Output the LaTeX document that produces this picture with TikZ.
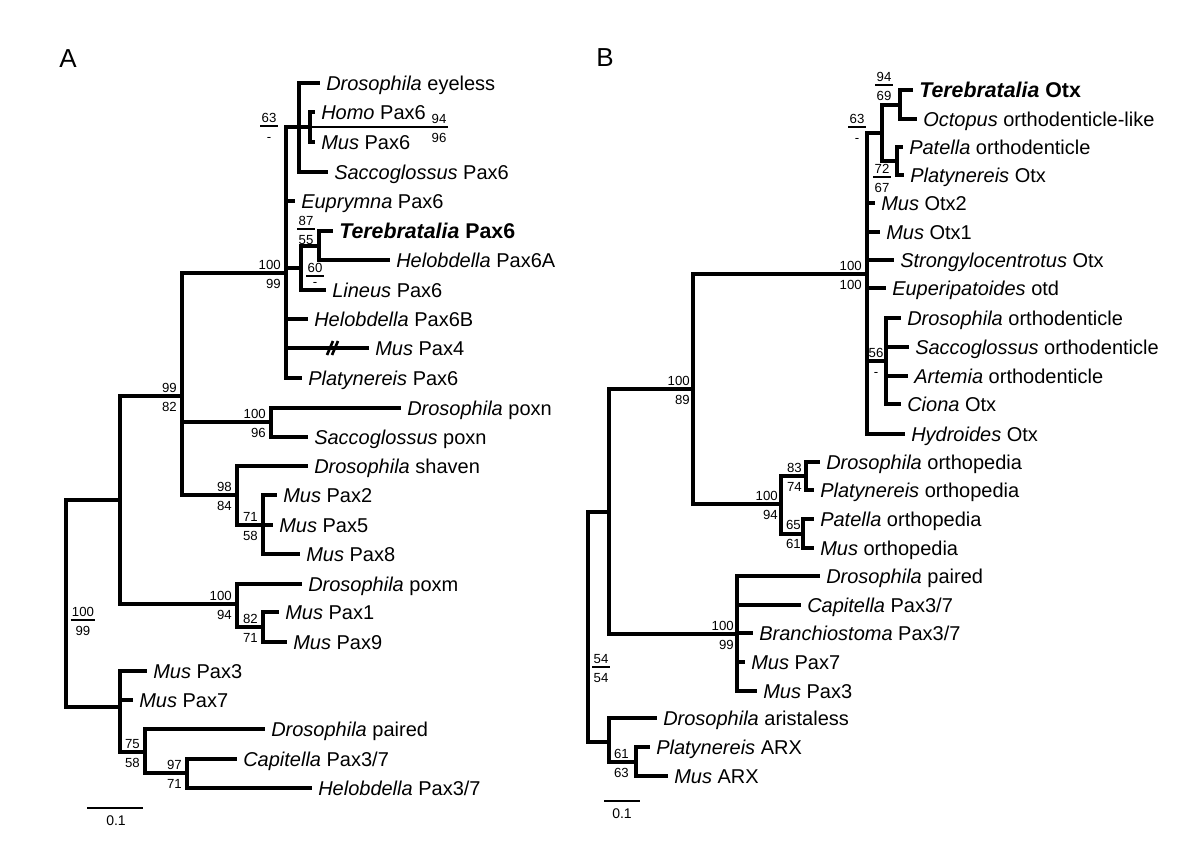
\documentclass[tikz,border=0pt]{standalone}
\usepackage{fontspec}
\setmainfont{Liberation Sans}
\newcommand\TipF{\fontsize{15pt}{17pt}\selectfont}
\newcommand\TipBF{\fontsize{16pt}{18pt}\selectfont\bfseries}
\newcommand\BsF{\fontsize{9.9pt}{11pt}\selectfont}
\newcommand\PanF{\fontsize{19.5pt}{22pt}\selectfont}
\newcommand\ScF{\fontsize{10.5pt}{12pt}\selectfont}
\tikzset{
  br/.style={line width=3pt},
  tip/.style={anchor=west, inner xsep=4.5pt, inner ysep=0pt, text height=10.7pt, text depth=0pt, font=\TipF},
  tipb/.style={tip, text height=11.4pt, font=\TipBF},
  bsu/.style={anchor=south east, inner sep=0pt, text height=7.1pt, text depth=0pt, font=\BsF},
  bsl/.style={anchor=north east, inner sep=0pt, text height=7.1pt, text depth=0pt, font=\BsF},
  fnumt/.style={anchor=south, inner xsep=0.8pt, inner ysep=0pt, text height=7.1pt, text depth=2.3pt, font=\BsF},
  fnumb/.style={anchor=north, inner xsep=0.8pt, inner ysep=0pt, text height=7.1pt, text depth=0pt, font=\BsF},
  fbar/.style={line width=1.1pt},
  lead/.style={line width=1pt},
  pan/.style={inner sep=0pt, font=\PanF},
  scl/.style={inner sep=0pt, font=\ScF},
  sbar/.style={line width=1.6pt},
  brk/.style={line width=2pt},
}
% bootstrap pair: name, node x, stem y, top, bottom
\newcommand\BS[5]{%
  \node[bsu] (#1u) at (#2-5,#3-3.5) {#4};
  \node[bsl] (#1l) at (#2-5,#3+5.5) {#5};}
% stacked fraction: name, centre x, bar y, top, bottom
\newcommand\FR[5]{%
  \node[fnumt] (#1t) at (#2,#3) {#4};
  \node[fnumb] (#1b) at (#2,#3+5.5) {#5};
  \draw[fbar] (#1t.south west) -- (#1t.south east);}
\begin{document}
\begin{tikzpicture}[x=0.75pt,y=-0.75pt]
\useasboundingbox (0,0) rectangle (1200,854);
\node[pan] (labA) at (68,59) {A};
\node[pan] (labB) at (605,58) {B};

% ================= Panel A =================
\node[tip] (aT1) at (320,83) {\textit{Drosophila} eyeless};
\node[tip] (aT2) at (315,112) {\textit{Homo} Pax6};
\node[tip] (aT3) at (315,142) {\textit{Mus} Pax6};
\node[tip] (aT4) at (328,172) {\textit{Saccoglossus} Pax6};
\node[tip] (aT5) at (295,201) {\textit{Euprymna} Pax6};
\node[tipb] (aT6) at (333,231) {\textit{Terebratalia} Pax6};
\node[tip] (aT7) at (390,260) {\textit{Helobdella} Pax6A};
\node[tip] (aT8) at (326,290) {\textit{Lineus} Pax6};
\node[tip] (aT9) at (308,319) {\textit{Helobdella} Pax6B};
\node[tip] (aT10) at (369,348) {\textit{Mus} Pax4};
\node[tip] (aT11) at (302,378) {\textit{Platynereis} Pax6};
\node[tip] (aT12) at (401,408) {\textit{Drosophila} poxn};
\node[tip] (aT13) at (308,437) {\textit{Saccoglossus} poxn};
\node[tip] (aT14) at (308,466) {\textit{Drosophila} shaven};
\node[tip] (aT15) at (277,495) {\textit{Mus} Pax2};
\node[tip] (aT16) at (273,525) {\textit{Mus} Pax5};
\node[tip] (aT17) at (300,554) {\textit{Mus} Pax8};
\node[tip] (aT18) at (302,584) {\textit{Drosophila} poxm};
\node[tip] (aT19) at (279,612) {\textit{Mus} Pax1};
\node[tip] (aT20) at (287,642) {\textit{Mus} Pax9};
\node[tip] (aT21) at (147,671) {\textit{Mus} Pax3};
\node[tip] (aT22) at (133,700) {\textit{Mus} Pax7};
\node[tip] (aT23) at (265,729) {\textit{Drosophila} paired};
\node[tip] (aT24) at (237,759) {\textit{Capitella} Pax3/7};
\node[tip] (aT25) at (312,788) {\textit{Helobdella} Pax3/7};

\coordinate (aR) at (66,603);
\coordinate (aU) at (120,500);
\coordinate (aL) at (120,707);
\coordinate (a99) at (182,396);
\coordinate (aPx6) at (286,273);
\coordinate (a63) at (299,127);
\coordinate (aHM) at (310,127);
\coordinate (a60) at (301,268);
\coordinate (a87) at (319,245.5);
\coordinate (aPoxn) at (271,422);
\coordinate (aShav) at (237,495);
\coordinate (a71) at (263,525);
\coordinate (aPoxm) at (237,604);
\coordinate (a82) at (263,627);
\coordinate (a75) at (145,752);
\coordinate (a97) at (187,773);

\draw[br] (aR) |- (aU) (aR) |- (aL);
\draw[br] (aU) |- (a99) (aU) |- (aPoxm);
\draw[br] (a99) |- (aPx6) (a99) |- (aPoxn) (a99) |- (aShav);
\draw[br] (aPx6) |- (a63) (aPx6) |- (aT5.west) (aPx6) |- (a60)
          (aPx6) |- (aT9.west) (aPx6) |- (aT10.west) (aPx6) |- (aT11.west);
\draw[br] (a63) |- (aT1.west) (a63) |- (aHM) (a63) |- (aT4.west);
\draw[br] (aHM) |- (aT2.west) (aHM) |- (aT3.west);
\draw[br] (a60) |- (a87) (a60) |- (aT8.west);
\draw[br] (a87) |- (aT6.west) (a87) |- (aT7.west);
\draw[br] (aPoxn) |- (aT12.west) (aPoxn) |- (aT13.west);
\draw[br] (aShav) |- (aT14.west) (aShav) |- (a71);
\draw[br] (a71) |- (aT15.west) (a71) |- (aT16.west) (a71) |- (aT17.west);
\draw[br] (aPoxm) |- (aT18.west) (aPoxm) |- (a82);
\draw[br] (a82) |- (aT19.west) (a82) |- (aT20.west);
\draw[br] (aL) |- (aT21.west) (aL) |- (aT22.west) (aL) |- (a75);
\draw[br] (a75) |- (aT23.west) (a75) |- (a97);
\draw[br] (a97) |- (aT24.west) (a97) |- (aT25.west);
% break mark on Mus Pax4
\draw[brk] (327,355) -- (333,341) (332,355) -- (338,341);

\BS{bA99}{182}{396}{99}{82}
\BS{bAPoxn}{271}{422}{100}{96}
\BS{bAPx6}{286}{273}{100}{99}
\BS{bAShav}{237}{495}{98}{84}
\BS{bA71}{263}{525}{71}{58}
\BS{bAPoxm}{237}{604}{100}{94}
\BS{bA82}{263}{627}{82}{71}
\BS{bA75}{145}{752}{75}{58}
\BS{bA97}{187}{773}{97}{71}
\FR{fA63}{269}{126}{63}{-}
\FR{fA87}{306}{229}{87}{55}
\FR{fAR}{83}{620}{100}{99}
\FR{fA94}{439}{127}{94}{96}
\draw[lead] (aHM) -- (fA94t.south west);
\node[fnumt] (fA60t) at (315,276) {60};
\node[fnumb] (fA60b) at (315,276.5) {-};
\draw[fbar] (fA60t.south west) -- (fA60t.south east);

\coordinate (aS1) at (87,808);
\coordinate (aS2) at (143,808);
\draw[sbar] (aS1) -- (aS2);
\node[scl] (aSc) at (116,821) {0.1};

% ================= Panel B =================
\node[tipb] (bT1) at (913,90) {\textit{Terebratalia} Otx};
\node[tip] (bT2) at (917,119) {\textit{Octopus} orthodenticle-like};
\node[tip] (bT3) at (903,147) {\textit{Patella} orthodenticle};
\node[tip] (bT4) at (904,175) {\textit{Platynereis} Otx};
\node[tip] (bT5) at (875,203) {\textit{Mus} Otx2};
\node[tip] (bT6) at (880,232) {\textit{Mus} Otx1};
\node[tip] (bT7) at (894,260) {\textit{Strongylocentrotus} Otx};
\node[tip] (bT8) at (886,288) {\textit{Euperipatoides} otd};
\node[tip] (bT9) at (901,318) {\textit{Drosophila} orthodenticle};
\node[tip] (bT10) at (909,347) {\textit{Saccoglossus} orthodenticle};
\node[tip] (bT11) at (908,376) {\textit{Artemia} orthodenticle};
\node[tip] (bT12) at (901,404) {\textit{Ciona} Otx};
\node[tip] (bT13) at (905,434) {\textit{Hydroides} Otx};
\node[tip] (bT14) at (820,462) {\textit{Drosophila} orthopedia};
\node[tip] (bT15) at (814,490) {\textit{Platynereis} orthopedia};
\node[tip] (bT16) at (814,519) {\textit{Patella} orthopedia};
\node[tip] (bT17) at (814,548) {\textit{Mus} orthopedia};
\node[tip] (bT18) at (820,576) {\textit{Drosophila} paired};
\node[tip] (bT19) at (801,605) {\textit{Capitella} Pax3/7};
\node[tip] (bT20) at (753,633) {\textit{Branchiostoma} Pax3/7};
\node[tip] (bT21) at (745,662) {\textit{Mus} Pax7};
\node[tip] (bT22) at (757,691) {\textit{Mus} Pax3};
\node[tip] (bT23) at (657,718) {\textit{Drosophila} aristaless};
\node[tip] (bT24) at (650,747) {\textit{Platynereis} ARX};
\node[tip] (bT25) at (668,776) {\textit{Mus} ARX};

\coordinate (bR) at (588,627);
\coordinate (bU) at (609,512);
\coordinate (bARX) at (609,742);
\coordinate (bOO) at (693,389);
\coordinate (bPax37) at (737,634);
\coordinate (bOtx) at (867,274);
\coordinate (bOrtho) at (781,504);
\coordinate (b63) at (882,133);
\coordinate (b94) at (900,104.5);
\coordinate (b72) at (897,161);
\coordinate (b56) at (886,361);
\coordinate (b83) at (806,476);
\coordinate (b65) at (803,533.5);
\coordinate (b61) at (636,762);

\draw[br] (bR) |- (bU) (bR) |- (bARX);
\draw[br] (bU) |- (bOO) (bU) |- (bPax37);
\draw[br] (bOO) |- (bOtx) (bOO) |- (bOrtho);
\draw[br] (bOtx) |- (b63) (bOtx) |- (bT5.west) (bOtx) |- (bT6.west) (bOtx) |- (bT7.west)
          (bOtx) |- (bT8.west) (bOtx) |- (b56) (bOtx) |- (bT13.west);
\draw[br] (b63) |- (b94) (b63) |- (b72);
\draw[br] (b94) |- (bT1.west) (b94) |- (bT2.west);
\draw[br] (b72) |- (bT3.west) (b72) |- (bT4.west);
\draw[br] (b56) |- (bT9.west) (b56) |- (bT10.west) (b56) |- (bT11.west) (b56) |- (bT12.west);
\draw[br] (bOrtho) |- (b83) (bOrtho) |- (b65);
\draw[br] (b83) |- (bT14.west) (b83) |- (bT15.west);
\draw[br] (b65) |- (bT16.west) (b65) |- (bT17.west);
\draw[br] (bPax37) |- (bT18.west) (bPax37) |- (bT19.west) (bPax37) |- (bT20.west)
          (bPax37) |- (bT21.west) (bPax37) |- (bT22.west);
\draw[br] (bARX) |- (bT23.west) (bARX) |- (b61);
\draw[br] (b61) |- (bT24.west) (b61) |- (bT25.west);

\BS{bBOtx}{867}{274}{100}{100}
\BS{bBOO}{695}{389}{100}{89}
\BS{bBOrtho}{783}{504}{100}{94}
\BS{bB83}{807}{476}{83}{74}
\BS{bB65}{806}{533.5}{65}{61}
\BS{bBPax37}{739}{634}{100}{99}
\BS{bB61}{634}{762}{61}{63}
\node[bsu, anchor=south] (bB56u) at (876,357.5) {56};
\node[bsl, anchor=north] (bB56l) at (876,366.5) {-};
\FR{fB63}{857}{127}{63}{-}
\FR{fB94}{884}{85}{94}{69}
\FR{fB72}{882}{177}{72}{67}
\FR{fBR}{601}{667}{54}{54}

\coordinate (bS1) at (604,801);
\coordinate (bS2) at (640,801);
\draw[sbar] (bS1) -- (bS2);
\node[scl] (bSc) at (622,814) {0.1};
\end{tikzpicture}
\end{document}
